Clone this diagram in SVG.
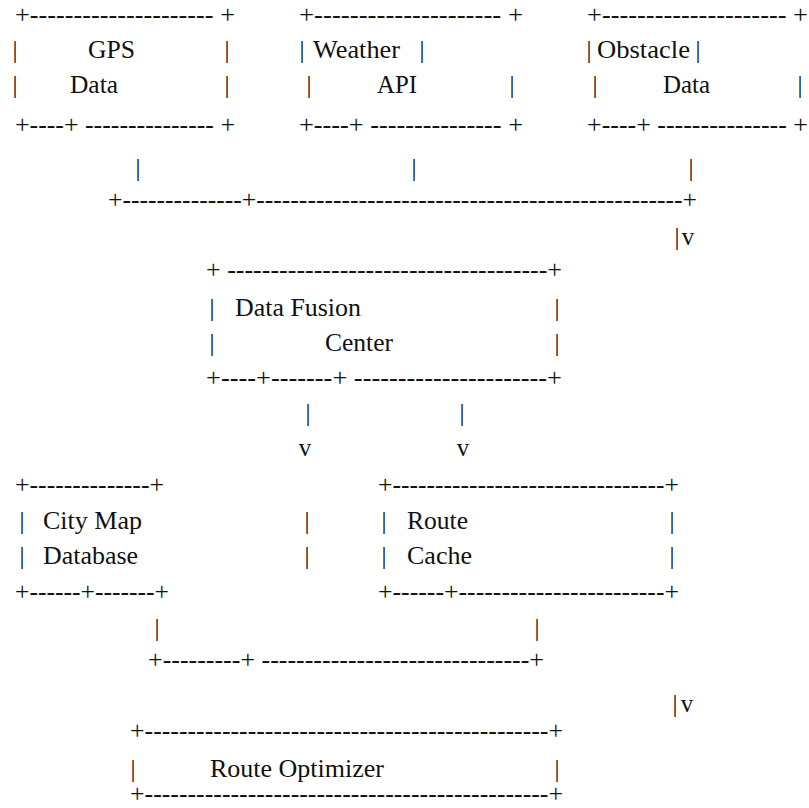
<svg xmlns="http://www.w3.org/2000/svg" xml:space="preserve" width="809" height="808" viewBox="0 0 809 808" font-family="Liberation Serif" font-size="25" fill="#111"><style>.c{text-anchor:middle}</style><rect width="809" height="808" fill="#fff"/><g id="gps"><text x="15" y="23" textLength="220" lengthAdjust="spacingAndGlyphs">+--------------------- +</text><text class="c" x="15" y="58">|</text><text x="88" y="58" textLength="47" lengthAdjust="spacingAndGlyphs">GPS</text><text class="c" x="227" y="58">|</text><text class="c" x="15" y="93">|</text><text x="70" y="93" textLength="48" lengthAdjust="spacingAndGlyphs">Data</text><text class="c" x="227" y="93">|</text><text x="15" y="133" textLength="220" lengthAdjust="spacingAndGlyphs">+----+ --------------- +</text></g><g id="weather"><text x="299" y="23" textLength="224" lengthAdjust="spacingAndGlyphs">+--------------------- +</text><text class="c" x="302" y="58">|</text><text x="313" y="58" textLength="87" lengthAdjust="spacingAndGlyphs">Weather</text><text class="c" x="422" y="58">|</text><text class="c" x="309" y="93">|</text><text x="377" y="93" textLength="40" lengthAdjust="spacingAndGlyphs">API</text><text class="c" x="512" y="93">|</text><text x="299" y="133" textLength="224" lengthAdjust="spacingAndGlyphs">+----+ --------------- +</text></g><g id="obstacle"><text x="587" y="23" textLength="221" lengthAdjust="spacingAndGlyphs">+--------------------- +</text><text class="c" x="589" y="58">|</text><text x="597" y="58" textLength="93" lengthAdjust="spacingAndGlyphs">Obstacle</text><text class="c" x="698" y="58">|</text><text class="c" x="595" y="93">|</text><text x="663" y="93" textLength="47" lengthAdjust="spacingAndGlyphs">Data</text><text class="c" x="800" y="93">|</text><text x="587" y="133" textLength="221" lengthAdjust="spacingAndGlyphs">+----+ --------------- +</text></g><g id="fusion"><text x="206" y="278" textLength="356" lengthAdjust="spacingAndGlyphs">+ -------------------------------------+</text><text class="c" x="212" y="316">|</text><text x="235" y="316" textLength="126" lengthAdjust="spacingAndGlyphs">Data Fusion</text><text class="c" x="557" y="316">|</text><text class="c" x="212" y="351">|</text><text x="325" y="351" textLength="68" lengthAdjust="spacingAndGlyphs">Center</text><text class="c" x="557" y="351">|</text><text x="206" y="386" textLength="356" lengthAdjust="spacingAndGlyphs">+----+-------+ ----------------------+</text></g><g id="citymap"><text x="15" y="493" textLength="149" lengthAdjust="spacingAndGlyphs">+--------------+</text><text class="c" x="22" y="529">|</text><text x="43" y="529" textLength="99" lengthAdjust="spacingAndGlyphs">City Map</text><text class="c" x="22" y="564">|</text><text x="43" y="564" textLength="95" lengthAdjust="spacingAndGlyphs">Database</text><text x="15" y="600" textLength="154" lengthAdjust="spacingAndGlyphs">+------+-------+</text></g><g id="cache"><text x="378" y="493" textLength="301" lengthAdjust="spacingAndGlyphs">+--------------------------------+</text><text class="c" x="384" y="529">|</text><text x="407" y="529" textLength="61" lengthAdjust="spacingAndGlyphs">Route</text><text class="c" x="672" y="529">|</text><text class="c" x="384" y="564">|</text><text x="407" y="564" textLength="65" lengthAdjust="spacingAndGlyphs">Cache</text><text class="c" x="672" y="564">|</text><text x="378" y="600" textLength="301" lengthAdjust="spacingAndGlyphs">+------+------------------------+</text></g><g id="optimizer"><text x="130" y="739" textLength="433" lengthAdjust="spacingAndGlyphs">+-----------------------------------------------+</text><text class="c" x="133" y="777">|</text><text x="210" y="777" textLength="174" lengthAdjust="spacingAndGlyphs">Route Optimizer</text><text class="c" x="557" y="777">|</text><text x="130" y="802" textLength="433" lengthAdjust="spacingAndGlyphs">+-----------------------------------------------+</text></g><g id="connectors"><text class="c" x="138" y="176">|</text><text class="c" x="414" y="176">|</text><text class="c" x="691" y="176">|</text><text x="108" y="208" textLength="589" lengthAdjust="spacingAndGlyphs">+--------------+--------------------------------------------------+</text><text class="c" x="677" y="245">|</text><text class="c" x="688" y="245">v</text><text class="c" x="308" y="421">|</text><text class="c" x="462" y="421">|</text><text class="c" x="305" y="456">v</text><text class="c" x="463" y="456">v</text><text class="c" x="307" y="529">|</text><text class="c" x="307" y="564">|</text><text class="c" x="157" y="636">|</text><text class="c" x="537" y="636">|</text><text x="148" y="668" textLength="396" lengthAdjust="spacingAndGlyphs">+---------+ -------------------------------+</text><text class="c" x="675" y="712">|</text><text class="c" x="687" y="712">v</text></g></svg>
